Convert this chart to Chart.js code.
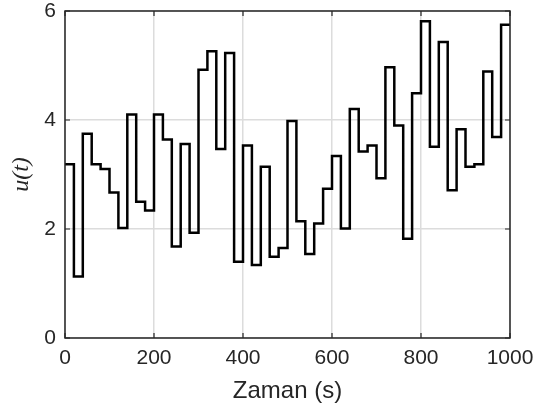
<!DOCTYPE html>
<html>
<head>
<meta charset="utf-8">
<script src="https://cdn.jsdelivr.net/npm/chart.js@4"></script>
<style>
  html, body { margin: 0; padding: 0; background: #fff; }
  #wrap { width: 537px; height: 413px; }
</style>
</head>
<body>
<div id="wrap"><canvas id="myChart" width="537" height="413"></canvas></div>
<script>
// start time of each 20 s step
const stepTimes = [
  0, 20, 40, 60, 80, 100, 120, 140, 160, 180,
  200, 220, 240, 260, 280, 300, 320, 340, 360, 380,
  400, 420, 440, 460, 480, 500, 520, 540, 560, 580,
  600, 620, 640, 660, 680, 700, 720, 740, 760, 780,
  800, 820, 840, 860, 880, 900, 920, 940, 960, 980, 1000
];
// u(t) level for each step (last one repeated to close at t=1000)
const uValues = [
  3.19, 1.13, 3.75, 3.19, 3.10, 2.67, 2.02, 4.10, 2.50, 2.34,
  4.10, 3.64, 1.68, 3.56, 1.93, 4.92, 5.26, 3.47, 5.23, 1.40,
  3.53, 1.34, 3.14, 1.49, 1.65, 3.98, 2.14, 1.54, 2.10, 2.74,
  3.34, 2.01, 4.20, 3.42, 3.53, 2.93, 4.97, 3.90, 1.82, 4.49,
  5.81, 3.51, 5.43, 2.71, 3.83, 3.14, 3.19, 4.89, 3.69, 5.75, 5.75
];
const xTicks = [0, 200, 400, 600, 800, 1000];
const yTicks = [0, 2, 4, 6];

const axisColor = "#262626";

// box around the plot with small inward ticks, MATLAB style
const boxPlugin = {
  id: "box",
  afterDatasetsDraw(chart) {
    const { ctx, chartArea: a, scales } = chart;
    ctx.save();
    ctx.strokeStyle = axisColor;
    ctx.lineWidth = 1.5;
    ctx.strokeRect(a.left, a.top, a.right - a.left, a.bottom - a.top);
    ctx.lineWidth = 1.2;
    ctx.beginPath();
    xTicks.forEach((v) => {
      const px = scales.x.getPixelForValue(v);
      ctx.moveTo(px, a.bottom); ctx.lineTo(px, a.bottom - 5);
      ctx.moveTo(px, a.top); ctx.lineTo(px, a.top + 5);
    });
    yTicks.forEach((v) => {
      const py = scales.y.getPixelForValue(v);
      ctx.moveTo(a.left, py); ctx.lineTo(a.left + 5, py);
      ctx.moveTo(a.right, py); ctx.lineTo(a.right - 5, py);
    });
    ctx.stroke();
    ctx.restore();
  }
};

function renderChart() {
  const ctx = document.getElementById("myChart");
  const points = stepTimes.map((t, i) => ({ x: t, y: uValues[i] }));

  new Chart(ctx, {
    type: "line",
    data: {
      datasets: [
        {
          data: points,
          stepped: true,
          borderColor: "#000",
          borderWidth: 2.5,
          pointRadius: 0,
          fill: false,
        },
      ],
    },
    options: {
      responsive: false,
      animation: false,
      layout: { padding: { left: 7, right: 0, top: 0, bottom: 7 } },
      plugins: { legend: { display: false }, tooltip: { enabled: false } },
      scales: {
        x: {
          type: "linear",
          min: 0,
          max: 1000,
          afterBuildTicks: (s) => { s.ticks = xTicks.map((v) => ({ value: v })); },
          afterFit: (s) => { s.height = 68; s.paddingRight = 27; },
          grid: { color: "#dcdcdc", lineWidth: 1.5, drawTicks: false },
          border: { display: false },
          ticks: {
            color: axisColor,
            padding: 8,
            maxRotation: 0,
            callback: (v) => String(v),
            font: { family: "Liberation Sans, Arial", size: 21 },
          },
          title: {
            display: true,
            text: "Zaman (s)",
            color: axisColor,
            padding: { top: 0, bottom: 0 },
            font: { family: "Liberation Sans, Arial", size: 24 },
          },
        },
        y: {
          min: 0,
          max: 6,
          afterBuildTicks: (s) => { s.ticks = yTicks.map((v) => ({ value: v })); },
          afterFit: (s) => { s.width = 58; s.paddingTop = 11; },
          grid: { color: "#dcdcdc", lineWidth: 1.5, drawTicks: false },
          border: { display: false },
          ticks: {
            color: axisColor,
            padding: 9,
            callback: (v) => String(v),
            font: { family: "Liberation Sans, Arial", size: 21 },
          },
          title: {
            display: true,
            text: "u(t)",
            color: axisColor,
            padding: { top: 0, bottom: 4 },
            font: { family: "Liberation Serif, Times New Roman", size: 24, style: "italic" },
          },
        },
      },
    },
    plugins: [boxPlugin],
  });
}

renderChart();
</script>
</body>
</html>
